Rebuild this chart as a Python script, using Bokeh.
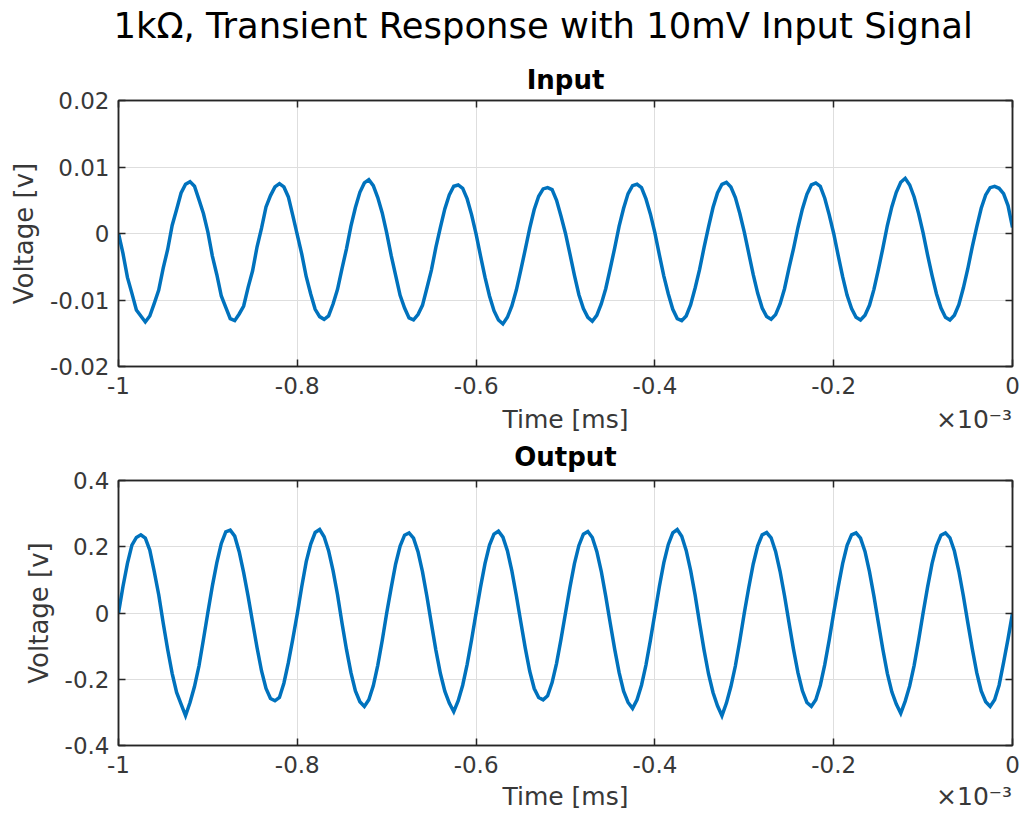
import numpy as np
from bokeh.plotting import figure
from bokeh.models import LinearAxis, FixedTicker, Title, Range1d, ColumnDataSource
from bokeh.layouts import column
from bokeh.embed import file_html
from bokeh.resources import INLINE

# ---------------- data ----------------
main_title = "1k\u03a9, Transient Response with 10mV Input Signal"
x_label = "Time [ms]"
y_label = "Voltage [v]"
x_multiplier = "\u00d710\u207b\u00b3"

x_ticks = [-1.0, -0.8, -0.6, -0.4, -0.2, 0.0]
x_tick_labels = ["-1", "-0.8", "-0.6", "-0.4", "-0.2", "0"]
in_y_ticks = [-0.02, -0.01, 0.0, 0.01, 0.02]
in_y_tick_labels = ["-0.02", "-0.01", "0", "0.01", "0.02"]
out_y_ticks = [-0.4, -0.2, 0.0, 0.2, 0.4]
out_y_tick_labels = ["-0.4", "-0.2", "0", "0.2", "0.4"]

time_ms = [
    -1.000, -0.995, -0.990, -0.985, -0.980, -0.975, -0.970, -0.965, -0.960, -0.955,
    -0.950, -0.945, -0.940, -0.935, -0.930, -0.925, -0.920, -0.915, -0.910, -0.905,
    -0.900, -0.895, -0.890, -0.885, -0.880, -0.875, -0.870, -0.865, -0.860, -0.855,
    -0.850, -0.845, -0.840, -0.835, -0.830, -0.825, -0.820, -0.815, -0.810, -0.805,
    -0.800, -0.795, -0.790, -0.785, -0.780, -0.775, -0.770, -0.765, -0.760, -0.755,
    -0.750, -0.745, -0.740, -0.735, -0.730, -0.725, -0.720, -0.715, -0.710, -0.705,
    -0.700, -0.695, -0.690, -0.685, -0.680, -0.675, -0.670, -0.665, -0.660, -0.655,
    -0.650, -0.645, -0.640, -0.635, -0.630, -0.625, -0.620, -0.615, -0.610, -0.605,
    -0.600, -0.595, -0.590, -0.585, -0.580, -0.575, -0.570, -0.565, -0.560, -0.555,
    -0.550, -0.545, -0.540, -0.535, -0.530, -0.525, -0.520, -0.515, -0.510, -0.505,
    -0.500, -0.495, -0.490, -0.485, -0.480, -0.475, -0.470, -0.465, -0.460, -0.455,
    -0.450, -0.445, -0.440, -0.435, -0.430, -0.425, -0.420, -0.415, -0.410, -0.405,
    -0.400, -0.395, -0.390, -0.385, -0.380, -0.375, -0.370, -0.365, -0.360, -0.355,
    -0.350, -0.345, -0.340, -0.335, -0.330, -0.325, -0.320, -0.315, -0.310, -0.305,
    -0.300, -0.295, -0.290, -0.285, -0.280, -0.275, -0.270, -0.265, -0.260, -0.255,
    -0.250, -0.245, -0.240, -0.235, -0.230, -0.225, -0.220, -0.215, -0.210, -0.205,
    -0.200, -0.195, -0.190, -0.185, -0.180, -0.175, -0.170, -0.165, -0.160, -0.155,
    -0.150, -0.145, -0.140, -0.135, -0.130, -0.125, -0.120, -0.115, -0.110, -0.105,
    -0.100, -0.095, -0.090, -0.085, -0.080, -0.075, -0.070, -0.065, -0.060, -0.055,
    -0.050, -0.045, -0.040, -0.035, -0.030, -0.025, -0.020, -0.015, -0.010, -0.005,
    0.000,
]

# input signal in millivolts, one row per 0.1 (x1e-3) cycle
input_mv = [
    0.0, -3.0, -6.6, -9.0, -11.5, -12.4, -13.3, -12.4, -10.5, -8.5, -5.2, -2.4, 1.2, 3.6, 6.1, 7.4, 7.8, 7.1, 5.1, 3.0,
    0.2, -3.4, -6.2, -9.4, -11.1, -12.8, -13.1, -12.1, -10.9, -8.1, -5.6, -2.0, 0.8, 4.0, 5.7, 7.0, 7.5, 7.0, 5.5, 2.7,
    -0.2, -3.1, -6.5, -9.1, -11.4, -12.5, -12.9, -12.4, -10.6, -8.4, -5.3, -2.3, 1.1, 3.9, 6.2, 7.6, 8.1, 7.2, 5.4, 3.1,
    0.1, -3.3, -6.3, -9.3, -11.2, -12.7, -13.0, -12.2, -10.8, -8.2, -5.5, -2.1, 0.9, 3.7, 5.8, 7.1, 7.3, 6.8, 5.2, 2.8,
    -0.1, -3.4, -6.6, -9.4, -11.6, -13.0, -13.6, -12.6, -10.9, -8.5, -5.5, -2.4, 0.8, 3.6, 5.6, 6.7, 6.9, 6.6, 5.0, 2.6,
    0.0, -3.1, -6.3, -9.2, -11.3, -12.6, -13.2, -12.3, -10.6, -8.3, -5.3, -2.2, 1.1, 3.8, 6.0, 7.2, 7.4, 6.9, 5.2, 2.9,
    0.1, -3.2, -6.4, -9.1, -11.4, -12.8, -13.1, -12.4, -10.7, -8.2, -5.4, -2.1, 1.0, 3.9, 6.1, 7.4, 7.7, 7.0, 5.4, 3.0,
    0.2, -3.0, -6.2, -9.0, -11.2, -12.5, -12.9, -12.2, -10.6, -8.3, -5.2, -2.3, 0.9, 3.7, 5.9, 7.3, 7.6, 7.1, 5.3, 2.8,
    0.0, -3.3, -6.5, -9.3, -11.3, -12.6, -13.0, -12.3, -10.8, -8.4, -5.4, -2.2, 1.2, 4.0, 6.2, 7.7, 8.3, 7.3, 5.5, 3.0,
    0.1, -3.2, -6.3, -9.1, -11.2, -12.6, -13.0, -12.3, -10.7, -8.2, -5.3, -2.0, 1.0, 3.8, 5.8, 6.9, 7.1, 6.8, 6.0, 4.2,
    0.9,
]

# output signal in volts, one row per cycle
output_v = [
    0.000, 0.080, 0.150, 0.205, 0.228, 0.236, 0.226, 0.190, 0.125, 0.055, -0.030, -0.110, -0.182, -0.240, -0.275, -0.310, -0.270, -0.222, -0.160, -0.080,
    0.002, 0.082, 0.152, 0.210, 0.245, 0.250, 0.232, 0.185, 0.122, 0.050, -0.028, -0.105, -0.175, -0.228, -0.258, -0.265, -0.255, -0.212, -0.150, -0.078,
    -0.002, 0.080, 0.155, 0.208, 0.243, 0.252, 0.230, 0.188, 0.128, 0.055, -0.030, -0.110, -0.180, -0.235, -0.268, -0.282, -0.262, -0.220, -0.158, -0.083,
    0.000, 0.076, 0.148, 0.202, 0.235, 0.242, 0.226, 0.185, 0.125, 0.050, -0.032, -0.112, -0.182, -0.236, -0.272, -0.298, -0.265, -0.218, -0.155, -0.080,
    0.001, 0.079, 0.150, 0.205, 0.238, 0.247, 0.229, 0.188, 0.127, 0.053, -0.027, -0.106, -0.176, -0.228, -0.255, -0.262, -0.250, -0.210, -0.152, -0.079,
    0.000, 0.078, 0.149, 0.204, 0.238, 0.246, 0.228, 0.186, 0.126, 0.051, -0.030, -0.109, -0.180, -0.236, -0.270, -0.288, -0.262, -0.218, -0.157, -0.082,
    -0.001, 0.080, 0.152, 0.207, 0.242, 0.252, 0.232, 0.189, 0.128, 0.054, -0.031, -0.112, -0.184, -0.240, -0.280, -0.310, -0.272, -0.222, -0.160, -0.083,
    0.000, 0.077, 0.148, 0.203, 0.236, 0.243, 0.227, 0.186, 0.126, 0.052, -0.029, -0.109, -0.180, -0.235, -0.270, -0.282, -0.262, -0.218, -0.156, -0.081,
    0.001, 0.078, 0.149, 0.204, 0.236, 0.242, 0.226, 0.186, 0.125, 0.051, -0.030, -0.110, -0.182, -0.238, -0.275, -0.303, -0.266, -0.220, -0.158, -0.082,
    0.000, 0.078, 0.149, 0.203, 0.235, 0.242, 0.227, 0.187, 0.126, 0.052, -0.029, -0.108, -0.180, -0.235, -0.268, -0.282, -0.262, -0.218, -0.150, -0.078,
    0.000,
]

input_v = [v / 1000.0 for v in input_mv]

# ---------------- styling ----------------
FONT = "DejaVu Sans"
AX = "#262626"
TXT = "#383838"
GRID = "#dedede"
LINE = "#0072BD"
LABEL_POS = -0.5      # centre of the "Time [ms]" text along the x axis
EXP_POS = -0.043      # centre of the "x10^-3" multiplier along the x axis


def style_axis(ax, ticks, labels, show_labels):
    ax.ticker = FixedTicker(ticks=ticks)
    ax.major_label_overrides = {t: (l if show_labels else "") for t, l in zip(ticks, labels)}
    ax.major_tick_in = 7
    ax.major_tick_out = 0
    ax.minor_tick_line_color = None
    ax.major_tick_line_color = AX
    ax.major_tick_line_width = 1.5
    ax.axis_line_color = AX
    ax.axis_line_width = 1.5
    ax.major_label_text_font = FONT
    ax.major_label_text_font_size = "23px" if show_labels else "0px"
    ax.major_label_text_color = TXT
    ax.axis_label_text_font = FONT
    ax.axis_label_text_font_size = "26px"
    ax.axis_label_text_font_style = "normal"
    ax.axis_label_text_color = TXT
    if not show_labels:
        ax.major_label_standoff = 0


def style_title(t, text, size, bold, align, standoff, valign="bottom", offset=0):
    t.text = text
    t.align = align
    t.vertical_align = valign
    t.text_font = FONT
    t.text_font_size = size
    t.text_font_style = "bold" if bold else "normal"
    t.text_color = "black"
    t.standoff = standoff
    t.offset = offset


def spacer(gap):
    # an invisible blank title used only to open a vertical gap between titles
    s = Title(text=" ", text_font_size="1px", text_color="white", standoff=gap)
    return s


def make_panel(xs, ys, y_ticks, y_tick_labels, y_lo, y_hi, height, b_top, b_bottom,
               sub_title, extra_title, tick_standoff, label_standoff):
    p = figure(width=1020, height=height, output_backend="svg", toolbar_location=None,
               x_range=Range1d(-1.0, 0.0), y_range=Range1d(y_lo, y_hi),
               min_border_left=118, min_border_right=8, min_border_top=b_top,
               min_border_bottom=b_bottom)
    p.background_fill_color = "white"
    p.border_fill_color = "white"
    p.outline_line_color = AX
    p.outline_line_width = 1.5

    style_axis(p.xaxis[0], x_ticks, x_tick_labels, True)
    style_axis(p.yaxis[0], y_ticks, y_tick_labels, True)
    p.yaxis[0].axis_label = y_label
    p.xaxis[0].major_label_standoff = tick_standoff
    p.yaxis[0].major_label_standoff = 9
    p.yaxis[0].axis_label_standoff = 8

    # second row below the x axis: axis title and the x10^-3 multiplier
    lab_axis = LinearAxis()
    lab_axis.ticker = FixedTicker(ticks=[LABEL_POS, EXP_POS])
    lab_axis.major_label_overrides = {LABEL_POS: x_label, EXP_POS: x_multiplier}
    lab_axis.axis_line_color = None
    lab_axis.major_tick_line_color = None
    lab_axis.minor_tick_line_color = None
    lab_axis.major_tick_in = 0
    lab_axis.major_tick_out = 0
    lab_axis.major_label_standoff = label_standoff
    lab_axis.major_label_text_font = FONT
    lab_axis.major_label_text_font_size = "25px"
    lab_axis.major_label_text_color = TXT
    p.add_layout(lab_axis, "below")

    top = LinearAxis()
    style_axis(top, x_ticks, x_tick_labels, False)
    p.add_layout(top, "above")
    right = LinearAxis()
    style_axis(right, y_ticks, y_tick_labels, False)
    p.add_layout(right, "right")

    p.xgrid.ticker = FixedTicker(ticks=x_ticks)
    p.ygrid.ticker = FixedTicker(ticks=y_ticks)
    p.xgrid.grid_line_color = GRID
    p.ygrid.grid_line_color = GRID
    p.xgrid.grid_line_width = 1
    p.ygrid.grid_line_width = 1

    src = ColumnDataSource(data=dict(t=xs, v=ys))
    p.line("t", "v", source=src, line_color=LINE, line_width=3.5, line_join="miter")

    if extra_title:
        # stacking outward from the frame: top axis, sub-title, gap, main title
        t1 = Title()
        style_title(t1, sub_title, "26px", True, "center", 12)
        p.add_layout(t1, "above")
        p.add_layout(spacer(6.0), "above")
        style_title(p.title, extra_title, "35.4px", False, "left", 0, "top", -5)
    else:
        p.add_layout(spacer(4.1), "above")
        style_title(p.title, sub_title, "26px", True, "center", 0, "top")
    return p


p1 = make_panel(time_ms, input_v, in_y_ticks, in_y_tick_labels, -0.02, 0.02,
                440, 100, 74, "Input", main_title, 10, 8)
p2 = make_panel(time_ms, output_v, out_y_ticks, out_y_tick_labels, -0.4, 0.4,
                374, 40, 69, "Output", None, 10, 6)

layout = column(p1, p2, spacing=0)
open("out.html", "w").write(file_html(layout, INLINE))
